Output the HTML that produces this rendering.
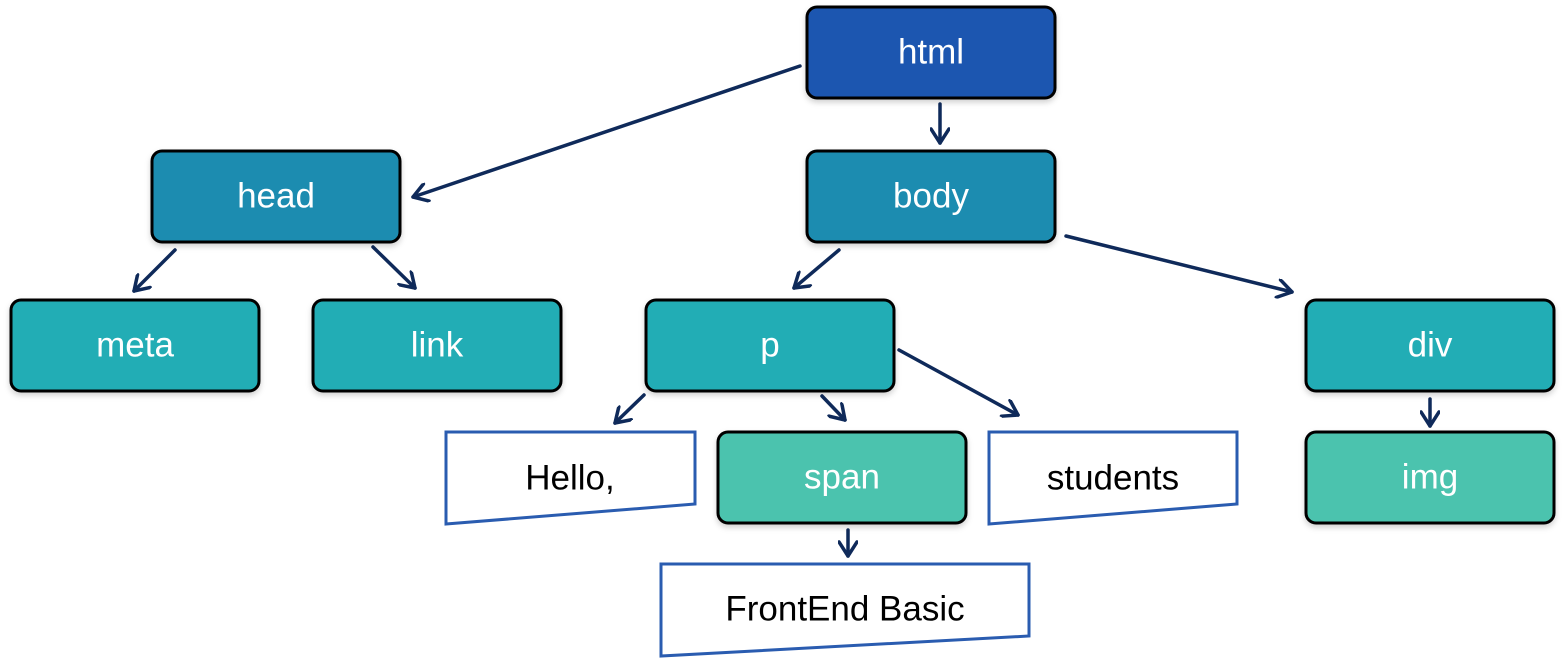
<!DOCTYPE html>
<html><head><meta charset="utf-8"><style>
html,body{margin:0;padding:0;background:#fff;}
svg{display:block;}
text{font-family:"Liberation Sans",sans-serif;font-size:35px;text-anchor:middle;dominant-baseline:central;}
.w{fill:#fff;}
.k{fill:#000;}
.n{stroke:#000;stroke-width:3;}
.t{fill:#fff;stroke:#2a5cb0;stroke-width:3;}
.a{stroke:#0f2a5a;stroke-width:3.5;fill:none;stroke-linecap:round;}
</style></head><body>
<svg width="1565" height="658" viewBox="0 0 1565 658" xmlns="http://www.w3.org/2000/svg">
<defs>
<marker id="m" viewBox="0 0 20 20" refX="17" refY="10" markerWidth="20" markerHeight="20" markerUnits="userSpaceOnUse" orient="auto">
<path d="M3,1 L17,10 L3,19" fill="none" stroke="#0f2a5a" stroke-width="3.5" stroke-linecap="round" stroke-linejoin="round"/>
</marker>
<filter id="s" x="-10%" y="-10%" width="120%" height="130%"><feDropShadow dx="0" dy="3" stdDeviation="3" flood-color="#000" flood-opacity="0.18"/></filter>
</defs>
<line class="a" x1="800" y1="66" x2="413" y2="197" marker-end="url(#m)"/>
<line class="a" x1="940" y1="104" x2="940" y2="143" marker-end="url(#m)"/>
<line class="a" x1="175" y1="250" x2="134" y2="291" marker-end="url(#m)"/>
<line class="a" x1="373" y1="247" x2="415" y2="288" marker-end="url(#m)"/>
<line class="a" x1="839" y1="250" x2="794" y2="288" marker-end="url(#m)"/>
<line class="a" x1="1066" y1="236" x2="1292" y2="292" marker-end="url(#m)"/>
<line class="a" x1="644" y1="395" x2="615" y2="423" marker-end="url(#m)"/>
<line class="a" x1="822" y1="396" x2="845" y2="420" marker-end="url(#m)"/>
<line class="a" x1="899" y1="350" x2="1018" y2="415" marker-end="url(#m)"/>
<line class="a" x1="1430" y1="399" x2="1430" y2="426" marker-end="url(#m)"/>
<line class="a" x1="848" y1="530" x2="848" y2="556" marker-end="url(#m)"/>
<g filter="url(#s)">
<rect class="n" x="807" y="7" width="248" height="91" rx="10" fill="#1f57b0"/>
<rect class="n" x="152" y="151" width="248" height="91" rx="10" fill="#1e8cb0"/>
<rect class="n" x="807" y="151" width="248" height="91" rx="10" fill="#1e8cb0"/>
<rect class="n" x="11" y="300" width="248" height="91" rx="10" fill="#20adb5"/>
<rect class="n" x="313" y="300" width="248" height="91" rx="10" fill="#20adb5"/>
<rect class="n" x="646" y="300" width="248" height="91" rx="10" fill="#20adb5"/>
<rect class="n" x="1306" y="300" width="248" height="91" rx="10" fill="#20adb5"/>
<rect class="n" x="718" y="432" width="248" height="91" rx="10" fill="#4cc3ae"/>
<rect class="n" x="1306" y="432" width="248" height="91" rx="10" fill="#4cc3ae"/>
</g>
<polygon class="t" points="446,432 695,432 695,504 446,524"/>
<polygon class="t" points="989,432 1237,432 1237,504 989,524"/>
<polygon class="t" points="661,564 1029,564 1029,636 661,656"/>
<text class="w" x="931" y="52">html</text>
<text class="w" x="276" y="196">head</text>
<text class="w" x="931" y="196">body</text>
<text class="w" x="135" y="345">meta</text>
<text class="w" x="437" y="345">link</text>
<text class="w" x="770" y="345">p</text>
<text class="w" x="1430" y="345">div</text>
<text class="w" x="842" y="477">span</text>
<text class="w" x="1430" y="477">img</text>
<text class="k" x="570" y="478">Hello,</text>
<text class="k" x="1113" y="478">students</text>
<text class="k" x="845" y="609">FrontEnd Basic</text>
</svg>
</body></html>
